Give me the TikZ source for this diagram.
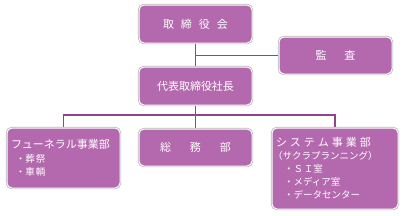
\documentclass[tikz,border=0pt]{standalone}
\usepackage{fontspec}
\setmainfont{Noto Sans CJK JP}
\usepackage{tikz}
\usetikzlibrary{positioning,backgrounds}
\definecolor{boxpurple}{HTML}{B469AE}
\definecolor{linkpurple}{HTML}{8E4589}
\definecolor{rimgray}{HTML}{B4B4B4}

\begin{document}
\begin{tikzpicture}[x=1pt, y=-1pt,
  org/.style={fill=boxpurple, draw=white, line width=1pt, rounded corners=5pt,
    preaction={draw=rimgray, line width=2.4pt},
    text=white, inner sep=0pt, font=\fontsize{11}{13}\selectfont},
  unit/.style={org, minimum width=113pt, minimum height=38pt},
  link/.style={draw=linkpurple, line width=1.3pt}]
\useasboundingbox (0,0) rectangle (405,215);
\node[unit] (bod) at (195.5,24) {取\hspace{7pt}締\hspace{7pt}役\hspace{7pt}会};
\node[unit, minimum height=37pt] (kansa) at (335.5,55.5) {監\hspace{18pt}査};
\node[unit] (ceo) at (195.5,86) {代表取締役社長};
\node[org, minimum width=113pt, minimum height=60pt, text width=105pt, align=left] (funeral) at (63.5,158)
  {フューネラル事業部\\[3pt]
   {\fontsize{9.5}{11.5}\selectfont\hspace{5pt}・葬\hspace{1pt}祭\\\hspace{5pt}・車\hspace{1pt}輌}};
\node[unit, minimum height=37pt] (soumu) at (195.5,147.5) {総\hspace{19pt}務\hspace{19pt}部};
\node[org, minimum width=126pt, minimum height=81pt, text width=118pt, align=left] (system) at (335,168.5)
  {シ\hspace{3pt}ス\hspace{3pt}テ\hspace{3pt}ム\hspace{3pt}事\hspace{3pt}業\hspace{3pt}部\\
   {\fontsize{9.5}{13}\selectfont\hspace{-3pt}（サクラプランニング）\\
   \hspace{8pt}・Ｓ\hspace{1pt}Ｉ室\\
   \hspace{8pt}・メディア室\\
   \hspace{8pt}・データセンター}};
\coordinate (bus) at (195.5,115);
\begin{scope}[on background layer]
\draw[link] (bod) -- (ceo);
\draw[link] (kansa.west) -- (kansa.west -| bod.south);
\draw[link] (ceo.south) -- (soumu.north);
\draw[link] (bus) -| (funeral.north);
\draw[link] (bus) -| (system.north);
\end{scope}
\end{tikzpicture}
\end{document}
